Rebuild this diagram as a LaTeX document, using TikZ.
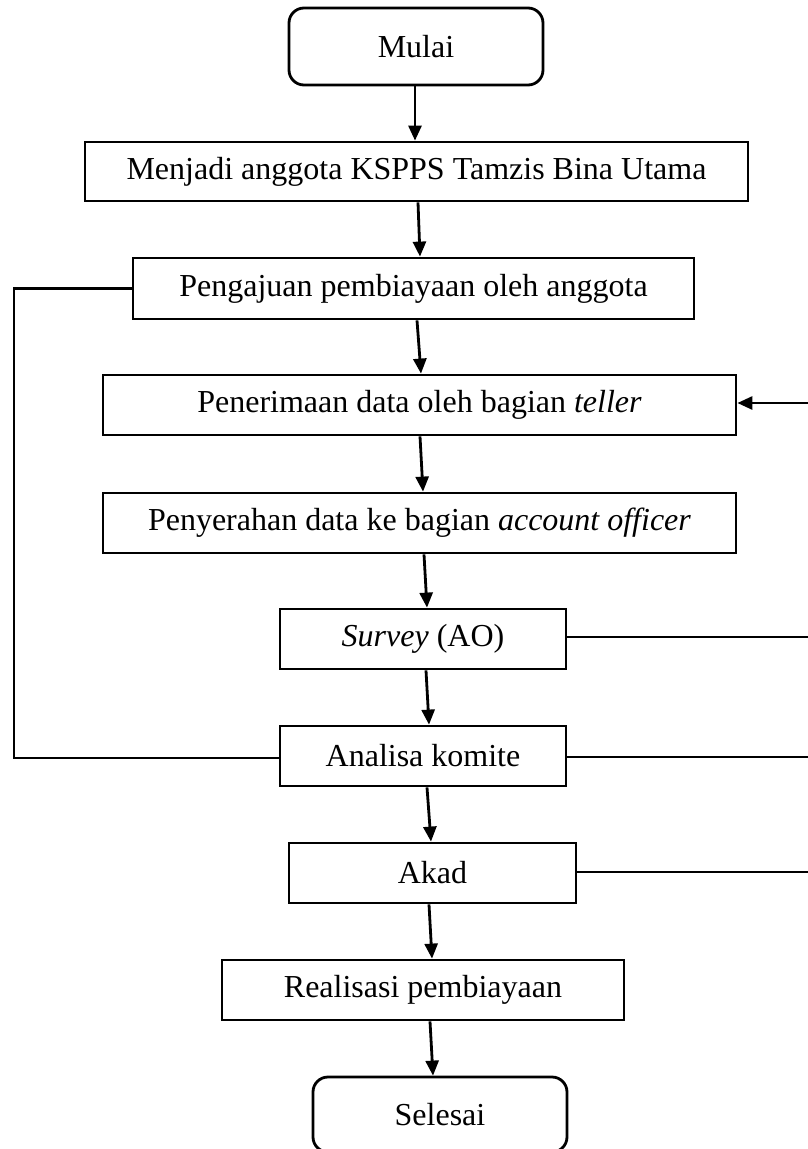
\documentclass[tikz,border=0pt]{standalone}
\usepackage{fontspec}
\setmainfont{Liberation Serif}
\usetikzlibrary{arrows.meta}
\begin{document}
\begin{tikzpicture}[x=1pt,y=-1pt,
  every node/.style={font=\fontsize{32}{38}\selectfont},
  box/.style={draw,line width=2.8pt,rectangle,inner sep=0pt,align=center},
  term/.style={box,rounded corners=15pt},
  arr/.style={line width=2.8pt,-{Triangle[length=15pt,width=13pt]}},
  ln/.style={line width=2.8pt}]
\useasboundingbox (0,0) rectangle (808,1149);
\node[term,minimum width=254pt,minimum height=77pt] (mulai) at (416,46.5) {Mulai};
\node[box,minimum width=663pt,minimum height=59pt] (m2) at (416.5,171.5) {Menjadi anggota KSPPS Tamzis Bina Utama};
\node[box,minimum width=561pt,minimum height=61pt] (m3) at (413.5,288.5) {Pengajuan pembiayaan oleh anggota};
\node[box,minimum width=633pt,minimum height=60pt] (m4) at (419.5,405) {Penerimaan data oleh bagian \textit{teller}};
\node[box,minimum width=633pt,minimum height=60pt] (m5) at (419.5,523) {Penyerahan data ke bagian \textit{account officer}};
\node[box,minimum width=286pt,minimum height=60pt] (survey) at (423,639) {\textit{Survey} (AO)};
\node[box,minimum width=286pt,minimum height=60pt] (analisa) at (423,756) {Analisa komite};
\node[box,minimum width=287pt,minimum height=60pt] (akad) at (432.5,873) {Akad};
\node[box,minimum width=402pt,minimum height=60pt] (real) at (423,990) {Realisasi pembiayaan};
\node[term,minimum width=254pt,minimum height=75pt] (selesai) at (440,1114.5) {Selesai};

\draw[arr] ([xshift=-1pt]mulai.south) -- ([xshift=-1.5pt]m2.north);
\draw[arr] ([xshift=1.5pt]m2.south) -- ([xshift=6.5pt]m3.north);
\draw[arr] ([xshift=3.5pt]m3.south) -- ([xshift=1.5pt]m4.north);
\draw[arr] ([xshift=0.5pt]m4.south) -- ([xshift=3.5pt]m5.north);
\draw[arr] ([xshift=4.5pt]m5.south) -- ([xshift=4pt]survey.north);
\draw[arr] ([xshift=3pt]survey.south) -- ([xshift=6pt]analisa.north);
\draw[arr] ([xshift=4pt]analisa.south) -- ([xshift=-1.5pt]akad.north);
\draw[arr] ([xshift=-3.5pt]akad.south) -- ([xshift=9pt]real.north);
\draw[arr] ([xshift=7pt]real.south) -- ([xshift=-7pt]selesai.north);

\coordinate (rx) at (812,0);
\coordinate (lx) at (14,0);
\draw[arr] ([yshift=2pt]m4.east -| rx) -- ([yshift=2pt]m4.east);
\draw[ln] ([yshift=2pt]survey.east) -- ([yshift=2pt]survey.east -| rx);
\draw[ln] ([yshift=-1pt]analisa.east) -- ([yshift=-1pt]analisa.east -| rx);
\draw[ln] ([yshift=1pt]akad.east) -- ([yshift=1pt]akad.east -| rx);
\draw[ln] (m3.west) -- (m3.west -| lx) -- ([yshift=-2pt]analisa.west -| lx) -- ([yshift=-2pt]analisa.west);
\end{tikzpicture}
\end{document}
